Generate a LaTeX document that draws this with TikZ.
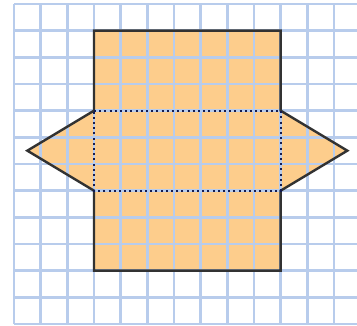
\documentclass[tikz,border=0pt]{standalone}
\definecolor{gridblue}{RGB}{184,204,236}
\definecolor{netfill}{RGB}{253,205,140}
\definecolor{outline}{RGB}{50,50,50}
\definecolor{dotnavy}{RGB}{20,28,80}
\tikzset{
  gridline/.style={draw=gridblue, line width=2.6pt},
  netedge/.style={draw=outline, line width=2.4pt, line join=miter},
  foldline/.style={draw=dotnavy, line width=2.2pt, dash pattern=on 2pt off 3.2pt},
}
\begin{document}
\begin{tikzpicture}[x=1pt,y=-1pt]
\useasboundingbox (0,0) rectangle (357,326);
\fill[white] (0,0) rectangle (357,326);
\begin{scope}[shift={(14,4)}, x=26.667pt, y=-26.667pt]
  % net fill
  \fill[netfill] (3,1) -- (10,1) -- (10,4) -- (12.5,5.5) -- (10,7) -- (10,10) -- (3,10) -- (3,7) -- (0.5,5.5) -- (3,4) -- cycle;
  % grid
  \foreach \i in {0,...,12} { \draw[gridline] (\i,0) -- (\i,12); }
  \foreach \j in {0,...,12} { \draw[gridline] (0,\j) -- (12.9,\j); }
  % outline
  \draw[netedge] (3,1) -- (10,1) -- (10,4) -- (12.5,5.5) -- (10,7) -- (10,10) -- (3,10) -- (3,7) -- (0.5,5.5) -- (3,4) -- cycle;
  % fold lines
  \draw[foldline] (3,4) -- (10,4) -- (10,7) -- (3,7) -- cycle;
\end{scope}
\end{tikzpicture}
\end{document}
